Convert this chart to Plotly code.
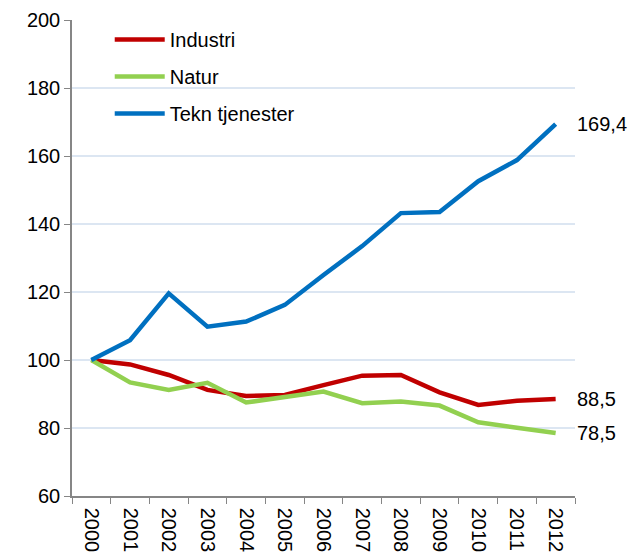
import plotly.graph_objects as go

years = [str(y) for y in range(2000, 2013)]
industri = [100, 98.7, 95.6, 91.2, 89.4, 89.7, 92.6, 95.4, 95.6, 90.5, 86.8, 88.0, 88.5]
natur = [100, 93.4, 91.2, 93.3, 87.5, 89.0, 90.7, 87.3, 87.8, 86.6, 81.7, 80.1, 78.5]
tekn = [100, 105.8, 119.6, 109.8, 111.3, 116.2, 125.0, 133.5, 143.2, 143.5, 152.6, 158.8, 169.4]
series_names = ["Industri", "Natur", "Tekn tjenester"]
series_colors = ["#c00000", "#92d050", "#0070c0"]
end_labels = ["88,5", "78,5", "169,4"]
y_ticks = [60, 80, 100, 120, 140, 160, 180, 200]

FONT = "Liberation Sans, Arial, sans-serif"
FS = 20
fig = go.Figure()
for i, (name, vals, col) in enumerate(zip(series_names, [industri, natur, tekn], series_colors)):
    fig.add_trace(go.Scatter(x=years, y=vals, mode="lines", name=name,
                             legendgroup=name,
                             line=dict(color=col, width=4.5)))
    fig.add_annotation(x=1, xref="paper", y=vals[-1], yref="y", text=end_labels[i],
                       showarrow=False, xanchor="left", xshift=0,
                       font=dict(family=FONT, size=FS, color="#000000"))

fig.update_layout(
    width=643, height=554,
    margin=dict(l=72, r=68, t=20, b=58),
    plot_bgcolor="white", paper_bgcolor="white",
    font=dict(family=FONT, size=FS, color="#000000"),
    showlegend=True,
    legend=dict(x=0.075, y=1.0, xanchor="left", yanchor="top",
                bgcolor="rgba(0,0,0,0)", tracegroupgap=8, itemwidth=50,
                font=dict(family=FONT, size=FS)),
    xaxis=dict(type="category", tickangle=90, showgrid=False, automargin=False,
               showline=True, linecolor="#868686", linewidth=1.5,
               ticks="outside", tickson="boundaries", ticklen=6, tickcolor="#868686",
               ticklabelstandoff=6, range=[-0.5, 12.5]),
    yaxis=dict(range=[60, 200], tickvals=y_ticks, showgrid=True, automargin=False,
               gridcolor="#dce6f2", gridwidth=1.5, zeroline=False,
               showline=True, linecolor="#868686", linewidth=1.5,
               ticks="outside", ticklen=6, tickcolor="#868686"),
)
fig.write_html("out.html", config={"displayModeBar": False},
               post_script="document.body.style.margin='0';document.body.style.overflow='hidden';")
